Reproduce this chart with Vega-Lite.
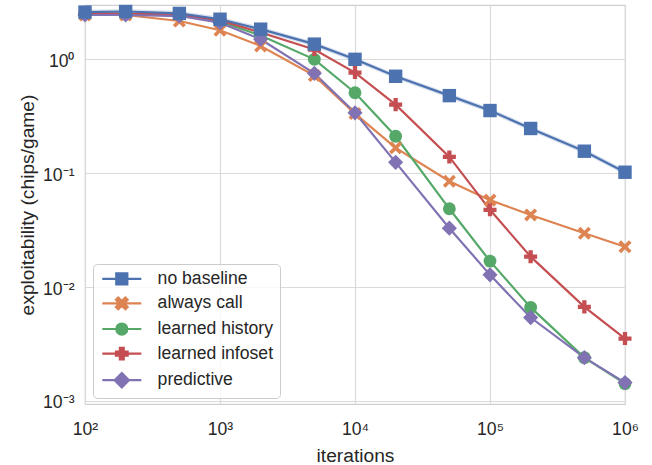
{
  "$schema": "https://vega.github.io/schema/vega-lite/v6.json",
  "width": 540,
  "height": 399,
  "autosize": {"type": "none"},
  "padding": {"left": 85, "top": 5, "right": 27, "bottom": 61},
  "background": "white",
  "config": {
    "font": "Liberation Sans",
    "view": {"stroke": "#d0d0d0", "strokeWidth": 1.2},
    "axis": {
      "grid": true, "gridColor": "#dadada", "gridWidth": 1.2,
      "domain": false, "ticks": false,
      "labelFontSize": 17.6, "titleFontSize": 19.2,
      "labelColor": "#262626", "titleColor": "#262626",
      "titleFontWeight": "normal"
    },
    "legend": {
      "orient": "none", "legendX": 8, "legendY": 259, "padding": 6,
      "strokeColor": "#cccccc", "fillColor": "rgba(255,255,255,0.8)",
      "cornerRadius": 4, "labelFontSize": 17.6, "labelColor": "#262626",
      "symbolSize": 169, "rowPadding": 3.6, "symbolOpacity": 1, "symbolStrokeWidth": 2.2,
      "symbolOffset": 14, "labelOffset": 27
    }
  },
  "data": {
    "values": [
      {"it": 100, "method": "always call", "v": 2.45},
      {"it": 200, "method": "always call", "v": 2.45},
      {"it": 500, "method": "always call", "v": 2.17},
      {"it": 1000, "method": "always call", "v": 1.8},
      {"it": 2000, "method": "always call", "v": 1.31},
      {"it": 5000, "method": "always call", "v": 0.72},
      {"it": 10000, "method": "always call", "v": 0.334},
      {"it": 20000, "method": "always call", "v": 0.167},
      {"it": 50000, "method": "always call", "v": 0.085},
      {"it": 100000, "method": "always call", "v": 0.058},
      {"it": 200000, "method": "always call", "v": 0.043},
      {"it": 500000, "method": "always call", "v": 0.0297},
      {"it": 1000000, "method": "always call", "v": 0.0226},
      {"it": 100, "method": "learned history", "v": 2.5},
      {"it": 200, "method": "learned history", "v": 2.5},
      {"it": 500, "method": "learned history", "v": 2.45},
      {"it": 1000, "method": "learned history", "v": 2.15},
      {"it": 2000, "method": "learned history", "v": 1.62},
      {"it": 5000, "method": "learned history", "v": 1.0},
      {"it": 10000, "method": "learned history", "v": 0.509},
      {"it": 20000, "method": "learned history", "v": 0.211},
      {"it": 50000, "method": "learned history", "v": 0.0487},
      {"it": 100000, "method": "learned history", "v": 0.0169},
      {"it": 200000, "method": "learned history", "v": 0.00663},
      {"it": 500000, "method": "learned history", "v": 0.0024},
      {"it": 1000000, "method": "learned history", "v": 0.00142},
      {"it": 100, "method": "learned infoset", "v": 2.52},
      {"it": 200, "method": "learned infoset", "v": 2.52},
      {"it": 500, "method": "learned infoset", "v": 2.47},
      {"it": 1000, "method": "learned infoset", "v": 2.2},
      {"it": 2000, "method": "learned infoset", "v": 1.72},
      {"it": 5000, "method": "learned infoset", "v": 1.22},
      {"it": 10000, "method": "learned infoset", "v": 0.765},
      {"it": 20000, "method": "learned infoset", "v": 0.4},
      {"it": 50000, "method": "learned infoset", "v": 0.139},
      {"it": 100000, "method": "learned infoset", "v": 0.0477},
      {"it": 200000, "method": "learned infoset", "v": 0.0185},
      {"it": 500000, "method": "learned infoset", "v": 0.0067},
      {"it": 1000000, "method": "learned infoset", "v": 0.00353},
      {"it": 100, "method": "predictive", "v": 2.45},
      {"it": 200, "method": "predictive", "v": 2.45},
      {"it": 500, "method": "predictive", "v": 2.4},
      {"it": 1000, "method": "predictive", "v": 2.1},
      {"it": 2000, "method": "predictive", "v": 1.5},
      {"it": 5000, "method": "predictive", "v": 0.753},
      {"it": 10000, "method": "predictive", "v": 0.339},
      {"it": 20000, "method": "predictive", "v": 0.1245},
      {"it": 50000, "method": "predictive", "v": 0.0329},
      {"it": 100000, "method": "predictive", "v": 0.0128},
      {"it": 200000, "method": "predictive", "v": 0.0054},
      {"it": 500000, "method": "predictive", "v": 0.0024},
      {"it": 1000000, "method": "predictive", "v": 0.00145},
      {"it": 100, "method": "no baseline", "v": 2.6, "lo": 2.47, "hi": 2.73},
      {"it": 200, "method": "no baseline", "v": 2.63, "lo": 2.5, "hi": 2.76},
      {"it": 500, "method": "no baseline", "v": 2.53, "lo": 2.4, "hi": 2.66},
      {"it": 1000, "method": "no baseline", "v": 2.25, "lo": 2.14, "hi": 2.36},
      {"it": 2000, "method": "no baseline", "v": 1.84, "lo": 1.75, "hi": 1.93},
      {"it": 5000, "method": "no baseline", "v": 1.36, "lo": 1.29, "hi": 1.43},
      {"it": 10000, "method": "no baseline", "v": 1.0, "lo": 0.95, "hi": 1.05},
      {"it": 20000, "method": "no baseline", "v": 0.71, "lo": 0.675, "hi": 0.745},
      {"it": 50000, "method": "no baseline", "v": 0.48, "lo": 0.456, "hi": 0.504},
      {"it": 100000, "method": "no baseline", "v": 0.355, "lo": 0.337, "hi": 0.373},
      {"it": 200000, "method": "no baseline", "v": 0.247, "lo": 0.235, "hi": 0.259},
      {"it": 500000, "method": "no baseline", "v": 0.156, "lo": 0.148, "hi": 0.164},
      {"it": 1000000, "method": "no baseline", "v": 0.102, "lo": 0.097, "hi": 0.107}
    ]
  },
  "encoding": {
    "x": {
      "field": "it", "type": "quantitative",
      "scale": {"type": "log", "domain": [100, 1000000], "nice": false},
      "axis": {
        "values": [100, 1000, 10000, 100000, 1000000],
        "labelExpr": "datum.value == 100 ? '10²' : datum.value == 1000 ? '10³' : datum.value == 10000 ? '10⁴' : datum.value == 100000 ? '10⁵' : '10⁶'",
        "title": "iterations", "labelPadding": 16, "titlePadding": 9,
        "labelFlush": false
      }
    }
  },
  "layer": [
    {
      "transform": [{"filter": "datum.method == 'no baseline'"}],
      "mark": {"type": "area", "color": "#4c72b0", "opacity": 0.22},
      "encoding": {
        "y": {
          "field": "lo", "type": "quantitative",
          "scale": {"type": "log", "domain": [0.00094, 3.0], "nice": false},
          "axis": {
            "values": [0.001, 0.01, 0.1, 1],
            "labelExpr": "datum.value >= 0.5 ? '10⁰' : datum.value >= 0.05 ? '10⁻¹' : datum.value >= 0.005 ? '10⁻²' : '10⁻³'",
            "title": "exploitability (chips/game)", "labelPadding": 11, "titlePadding": 5, "labelOffset": 2
          }
        },
        "y2": {"field": "hi"}
      }
    },
    {
      "mark": {"type": "line", "strokeWidth": 2.2},
      "encoding": {
        "y": {"field": "v", "type": "quantitative"},
        "color": {
          "field": "method", "type": "nominal", "title": null,
          "scale": {
            "domain": ["no baseline", "always call", "learned history", "learned infoset", "predictive"],
            "range": ["#4c72b0", "#dd8452", "#55a868", "#c44e52", "#8172b3"]
          }
        }
      }
    },
    {
      "transform": [{"filter": "datum.v < 0"}],
      "mark": {"type": "point", "filled": true, "opacity": 1, "size": 169, "strokeWidth": 2.2},
      "encoding": {
        "y": {"field": "v", "type": "quantitative"},
        "color": {"field": "method", "type": "nominal", "title": null},
        "stroke": {
          "field": "method", "type": "nominal", "title": null,
          "scale": {
            "domain": ["no baseline", "always call", "learned history", "learned infoset", "predictive"],
            "range": ["#4c72b0", "#dd8452", "#55a868", "#c44e52", "#8172b3"]
          }
        },
        "shape": {
          "field": "method", "type": "nominal", "title": null,
          "scale": {
            "domain": ["no baseline", "always call", "learned history", "learned infoset", "predictive"],
            "range": [
              "M-3,0H3M-0.85,-0.85H0.85V0.85H-0.85Z",
              "M-3,0H3M-0.9,-0.55L-0.55,-0.9L0,-0.35L0.55,-0.9L0.9,-0.55L0.35,0L0.9,0.55L0.55,0.9L0,0.35L-0.55,0.9L-0.9,0.55L-0.35,0Z",
              "M-3,0H3M0.85,0A0.85,0.85,0,1,1,-0.85,0A0.85,0.85,0,1,1,0.85,0Z",
              "M-3,0H3M-0.3,-0.9H0.3V-0.3H0.9V0.3H0.3V0.9H-0.3V0.3H-0.9V-0.3H-0.3Z",
              "M-3,0H3M0,-1.1L1.1,0L0,1.1L-1.1,0Z"
            ]
          }
        }
      }
    },
    {
      "transform": [{"filter": "datum.method == 'always call'"}],
      "mark": {"type": "point", "filled": true, "opacity": 1, "color": "#dd8452", "size": 170,
               "shape": "M-1,-0.6L-0.6,-1L0,-0.4L0.6,-1L1,-0.6L0.4,0L1,0.6L0.6,1L0,0.4L-0.6,1L-1,0.6L-0.4,0Z"},
      "encoding": {"y": {"field": "v", "type": "quantitative"}}
    },
    {
      "transform": [{"filter": "datum.method == 'learned history'"}],
      "mark": {"type": "point", "filled": true, "opacity": 1, "color": "#55a868", "size": 165, "shape": "circle"},
      "encoding": {"y": {"field": "v", "type": "quantitative"}}
    },
    {
      "transform": [{"filter": "datum.method == 'learned infoset'"}],
      "mark": {"type": "point", "filled": true, "opacity": 1, "color": "#c44e52", "size": 170,
               "shape": "M-0.33,-1H0.33V-0.33H1V0.33H0.33V1H-0.33V0.33H-1V-0.33H-0.33Z"},
      "encoding": {"y": {"field": "v", "type": "quantitative"}}
    },
    {
      "transform": [{"filter": "datum.method == 'predictive'"}],
      "mark": {"type": "point", "filled": true, "opacity": 1, "color": "#8172b3", "size": 230, "shape": "diamond"},
      "encoding": {"y": {"field": "v", "type": "quantitative"}}
    },
    {
      "transform": [{"filter": "datum.method == 'no baseline'"}],
      "mark": {"type": "point", "filled": true, "opacity": 1, "color": "#4c72b0", "size": 180, "shape": "square"},
      "encoding": {"y": {"field": "v", "type": "quantitative"}}
    }
  ]
}
